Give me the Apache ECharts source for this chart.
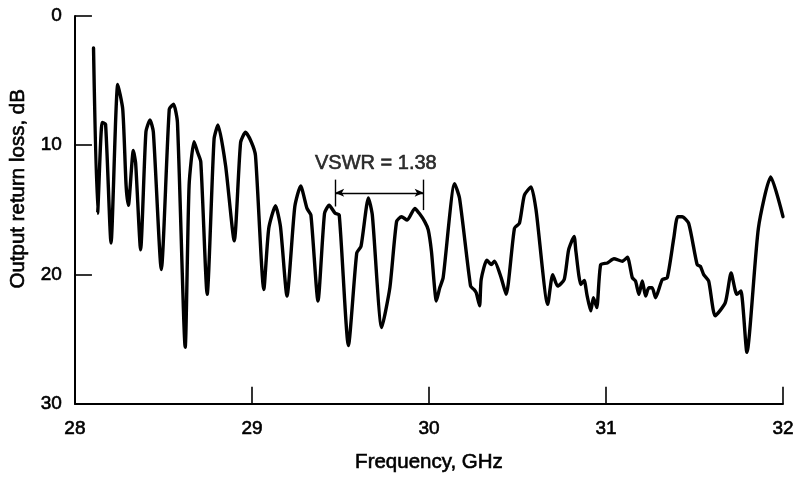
<!DOCTYPE html>
<html>
<head>
<meta charset="utf-8">
<title>Output return loss</title>
<script src="https://cdn.jsdelivr.net/npm/echarts@6/dist/echarts.min.js"></script>
<style>
  html, body { margin: 0; padding: 0; background: #ffffff; }
  #chart { width: 799px; height: 478px; }
</style>
</head>
<body>
<div id="chart"></div>
<script>
// Measured output return loss versus frequency
const frequencyGHz = [
  28.105, 28.128, 28.154, 28.173, 28.204, 28.242, 28.270, 28.289, 28.302, 28.330,
  28.343, 28.371, 28.401, 28.424, 28.443, 28.488, 28.533, 28.557, 28.579, 28.623,
  28.645, 28.673, 28.692, 28.711, 28.747, 28.786, 28.808, 28.851, 28.900, 28.936,
  28.964, 28.997, 29.020, 29.067, 29.095, 29.133, 29.161, 29.198, 29.242, 29.275,
  29.311, 29.333, 29.373, 29.410, 29.436, 29.470, 29.493, 29.545, 29.592, 29.616,
  29.658, 29.680, 29.733, 29.779, 29.817, 29.845, 29.877, 29.920, 29.945, 29.976,
  29.996, 30.014, 30.042, 30.061, 30.080, 30.145, 30.173, 30.235, 30.254, 30.267,
  30.286, 30.295, 30.327, 30.352, 30.370, 30.408, 30.436, 30.483, 30.511, 30.539,
  30.577, 30.605, 30.671, 30.699, 30.727, 30.764, 30.789, 30.820, 30.830, 30.858,
  30.877, 30.892, 30.914, 30.929, 30.948, 30.970, 31.008, 31.045, 31.093, 31.121,
  31.149, 31.167, 31.186, 31.205, 31.224, 31.242, 31.261, 31.280, 31.318, 31.346,
  31.383, 31.405, 31.430, 31.467, 31.515, 31.533, 31.552, 31.580, 31.617, 31.674,
  31.707, 31.739, 31.762, 31.796, 31.861, 31.931, 32.000
];
const returnLossDb = [
   2.48, 15.27,  8.23,  8.37, 17.57,  5.30,  7.21, 13.10, 14.64, 10.41,
  11.40, 18.09,  8.98,  8.04,  8.98, 19.62,  7.21,  6.83,  8.21, 25.63,
  13.10,  9.72, 10.51, 11.28, 21.54,  9.52,  8.44, 11.57, 17.40,  9.77,
   9.00,  9.77, 10.80, 21.16, 16.42, 14.68, 16.29, 21.67, 14.76, 13.15,
  14.89, 15.40, 22.05, 15.27, 14.64, 15.27, 15.40, 25.50, 18.34, 17.83,
  14.07, 15.40, 24.10, 21.03, 15.91, 15.53, 15.79, 14.89, 15.27, 15.91,
  16.55, 18.21, 22.05, 21.03, 20.26, 12.97, 14.12, 20.90, 21.16, 21.41,
  22.43, 20.39, 18.90, 19.24, 18.98, 20.26, 21.54, 16.42, 16.04, 13.87,
  13.22, 15.02, 22.31, 20.01, 20.90, 20.39, 18.09, 17.06, 18.21, 20.78,
  20.47, 21.54, 22.82, 21.80, 22.56, 19.24, 19.11, 18.78, 18.98, 18.67,
  20.26, 20.51, 21.54, 20.51, 21.67, 21.03, 21.03, 21.80, 20.39, 20.26,
  17.19, 15.53, 15.53, 16.04, 19.24, 19.36, 20.01, 20.51, 23.20, 22.18,
  19.88, 21.54, 21.28, 26.02, 16.42, 12.46, 15.53
];

// Axis ranges and tick spacing
const xRange = [28, 32];
const xStep = 1;
const yRange = [0, 30];
const yStep = 10;

// VSWR bracket: frequency span, arrow level and bracket end heights (dB)
const vswrSpanGHz = [29.47, 29.97];
const vswrArrowDb = 13.68;
const vswrLeftTick = [12.66, 14.74];
const vswrRightTick = [12.66, 15.02];
const vswrLabel = 'VSWR = 1.38';
const vswrLabelPos = [29.70, 11.4];

const fontFamily = 'Liberation Sans, Arial, Helvetica, sans-serif';
const ink = '#000000';

// slightly heavier strokes for all text
const textInk = {
  color: ink,
  fontFamily: fontFamily,
  textBorderColor: ink,
  textBorderWidth: 0.6
};

const chart = echarts.init(document.getElementById('chart'), null, { renderer: 'canvas' });

const curve = frequencyGHz.map((f, i) => [f, returnLossDb[i]]);

chart.setOption({
  animation: false,
  backgroundColor: '#ffffff',
  grid: { left: 72, right: 16, top: 16, bottom: 71, containLabel: false },
  xAxis: {
    type: 'value',
    min: xRange[0],
    max: xRange[1],
    interval: xStep,
    name: 'Frequency, GHz',
    nameLocation: 'middle',
    nameGap: 48,
    nameTextStyle: Object.assign({ fontSize: 20.5 }, textInk),
    axisLine: { show: true, onZero: false, lineStyle: { color: ink, width: 2 } },
    axisTick: { show: true, inside: true, length: 17, lineStyle: { color: ink, width: 1.6 } },
    axisLabel: Object.assign({ fontSize: 19, margin: 16 }, textInk),
    splitLine: { show: false }
  },
  yAxis: {
    type: 'value',
    min: yRange[0],
    max: yRange[1],
    interval: yStep,
    inverse: true,
    name: 'Output return loss, dB',
    nameLocation: 'middle',
    nameRotate: 90,
    nameGap: 44,
    nameTextStyle: Object.assign({ fontSize: 20.5, padding: [0, 0, 0, 42] }, textInk),
    axisLine: { show: true, onZero: false, lineStyle: { color: ink, width: 2 } },
    axisTick: { show: true, inside: true, length: 17, lineStyle: { color: ink, width: 1.6 } },
    axisLabel: Object.assign({ fontSize: 19, margin: 13 }, textInk),
    splitLine: { show: false }
  },
  series: [
    {
      name: 'Return loss',
      type: 'line',
      data: curve,
      showSymbol: false,
      smooth: 0.2,
      lineStyle: { color: ink, width: 3.4, join: 'round', cap: 'round' },
      z: 3
    },
    {
      name: 'VSWR bracket',
      type: 'line',
      data: [],
      markLine: {
        silent: true,
        symbol: ['none', 'none'],
        label: { show: false },
        lineStyle: { color: ink, width: 1.4, type: 'solid' },
        emphasis: { disabled: true },
        data: [
          [
            { coord: [vswrSpanGHz[0], vswrArrowDb], symbol: 'arrow', symbolSize: [6, 9] },
            { coord: [vswrSpanGHz[1], vswrArrowDb], symbol: 'arrow', symbolSize: [6, 9] }
          ],
          [
            { coord: [vswrSpanGHz[0], vswrLeftTick[0]] },
            { coord: [vswrSpanGHz[0], vswrLeftTick[1]] }
          ],
          [
            { coord: [vswrSpanGHz[1], vswrRightTick[0]] },
            { coord: [vswrSpanGHz[1], vswrRightTick[1]] }
          ]
        ]
      },
      z: 4
    },
    {
      name: 'VSWR label',
      type: 'scatter',
      data: [vswrLabelPos],
      symbolSize: 0,
      silent: true,
      label: Object.assign({
        show: true,
        position: 'inside',
        formatter: vswrLabel,
        fontSize: 20
      }, textInk),
      z: 5
    }
  ]
});
</script>
</body>
</html>
